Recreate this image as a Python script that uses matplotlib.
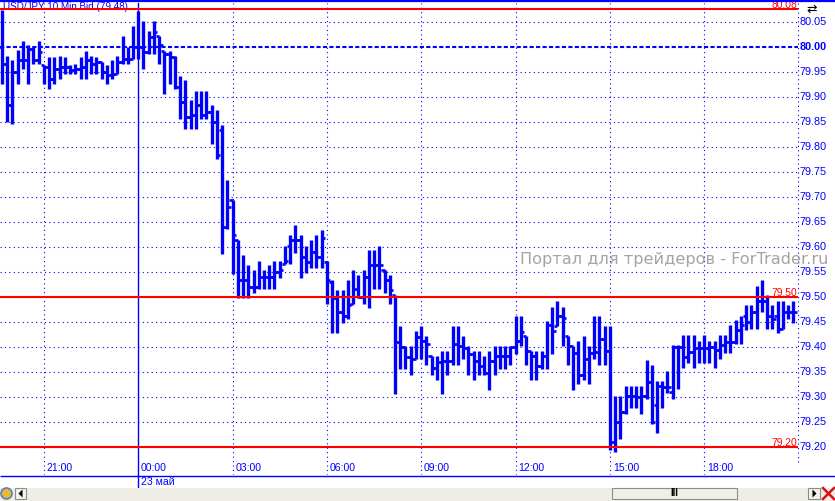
import matplotlib
matplotlib.use("Agg")
import matplotlib.pyplot as plt
from matplotlib.patches import Rectangle, Polygon
import matplotlib.transforms as mtrans

# ---------------- data ----------------
title = "USD/JPY 10 Min Bid (79.48)"
start_time = "19:40"          # time of the first 10-minute bar
bar_minutes = 10
opens = [80.000, 79.966, 79.883, 79.950, 79.973, 79.973, 79.996, 79.973, 79.963, 79.960,
         79.936, 79.956, 79.960, 79.960, 79.953, 79.956, 79.960, 79.973, 79.966, 79.969,
         79.950, 79.943, 79.946, 79.970, 79.976, 79.976, 80.000, 80.000, 79.990, 80.020,
         80.021, 79.991, 79.986, 79.980, 79.920, 79.890, 79.860, 79.863, 79.883, 79.863,
         79.870, 79.850, 79.833, 79.640, 79.693, 79.613, 79.533, 79.533, 79.520, 79.520,
         79.540, 79.540, 79.540, 79.550, 79.567, 79.603, 79.613, 79.613, 79.580, 79.570,
         79.590, 79.580, 79.570, 79.530, 79.497, 79.470, 79.463, 79.487, 79.517, 79.500,
         79.540, 79.563, 79.563, 79.553, 79.533, 79.505, 79.410, 79.400, 79.380, 79.375,
         79.420, 79.413, 79.382, 79.358, 79.370, 79.372, 79.372, 79.405, 79.402, 79.398,
         79.385, 79.372, 79.362, 79.348, 79.372, 79.382, 79.382, 79.382, 79.400, 79.412,
         79.422, 79.392, 79.382, 79.362, 79.382, 79.445, 79.442, 79.462, 79.422, 79.402,
         79.388, 79.345, 79.375, 79.388, 79.390, 79.415, 79.392, 79.210, 79.250, 79.270,
         79.303, 79.303, 79.300, 79.303, 79.330, 79.283, 79.323, 79.320, 79.310, 79.400,
         79.400, 79.380, 79.390, 79.397, 79.397, 79.397, 79.400, 79.393, 79.403, 79.410,
         79.410, 79.433, 79.463, 79.450, 79.470, 79.493, 79.493, 79.463, 79.463, 79.437,
         79.470, 79.470]
highs = [80.073, 79.981, 79.973, 79.993, 80.011, 80.003, 80.000, 80.011, 79.963, 79.979,
         79.979, 79.981, 79.979, 79.963, 79.966, 79.979, 79.991, 79.981, 79.979, 79.969,
         79.963, 79.973, 79.981, 80.021, 80.000, 80.041, 80.071, 80.051, 80.031, 80.051,
         80.021, 79.991, 79.991, 79.981, 79.941, 79.933, 79.893, 79.911, 79.911, 79.911,
         79.883, 79.873, 79.843, 79.733, 79.693, 79.613, 79.583, 79.563, 79.553, 79.573,
         79.553, 79.563, 79.573, 79.573, 79.603, 79.623, 79.643, 79.623, 79.603, 79.613,
         79.623, 79.633, 79.573, 79.533, 79.513, 79.513, 79.533, 79.553, 79.543, 79.553,
         79.593, 79.593, 79.603, 79.553, 79.543, 79.505, 79.441, 79.402, 79.402, 79.432,
         79.441, 79.422, 79.382, 79.382, 79.392, 79.392, 79.441, 79.441, 79.422, 79.402,
         79.392, 79.392, 79.382, 79.392, 79.402, 79.402, 79.402, 79.402, 79.462, 79.462,
         79.422, 79.392, 79.392, 79.392, 79.452, 79.481, 79.492, 79.481, 79.422, 79.402,
         79.412, 79.422, 79.402, 79.462, 79.462, 79.442, 79.442, 79.303, 79.303, 79.323,
         79.323, 79.323, 79.323, 79.373, 79.363, 79.333, 79.333, 79.353, 79.403, 79.403,
         79.423, 79.423, 79.423, 79.413, 79.423, 79.413, 79.413, 79.423, 79.423, 79.443,
         79.453, 79.463, 79.483, 79.483, 79.523, 79.533, 79.503, 79.483, 79.493, 79.493,
         79.483, 79.493]
lows = [79.926, 79.849, 79.846, 79.926, 79.956, 79.926, 79.966, 79.966, 79.926, 79.916,
        79.926, 79.936, 79.946, 79.946, 79.946, 79.936, 79.936, 79.946, 79.946, 79.936,
        79.926, 79.936, 79.946, 79.966, 79.966, 79.976, 79.976, 79.956, 79.986, 79.986,
        79.966, 79.906, 79.926, 79.916, 79.856, 79.836, 79.836, 79.836, 79.856, 79.856,
        79.806, 79.776, 79.586, 79.636, 79.546, 79.497, 79.497, 79.497, 79.507, 79.517,
        79.517, 79.517, 79.517, 79.537, 79.567, 79.567, 79.587, 79.537, 79.547, 79.557,
        79.557, 79.557, 79.487, 79.427, 79.427, 79.447, 79.457, 79.487, 79.497, 79.487,
        79.477, 79.517, 79.517, 79.507, 79.487, 79.305, 79.355, 79.355, 79.345, 79.375,
        79.375, 79.365, 79.345, 79.335, 79.305, 79.345, 79.365, 79.365, 79.375, 79.345,
        79.335, 79.345, 79.345, 79.315, 79.345, 79.355, 79.355, 79.365, 79.385, 79.402,
        79.365, 79.335, 79.335, 79.355, 79.355, 79.385, 79.442, 79.402, 79.365, 79.315,
        79.325, 79.335, 79.325, 79.375, 79.365, 79.365, 79.195, 79.190, 79.217, 79.267,
        79.277, 79.277, 79.267, 79.297, 79.247, 79.227, 79.277, 79.307, 79.297, 79.317,
        79.357, 79.367, 79.357, 79.367, 79.367, 79.367, 79.357, 79.377, 79.387, 79.387,
        79.407, 79.407, 79.433, 79.437, 79.437, 79.470, 79.437, 79.437, 79.427, 79.437,
        79.457, 79.447]
closes = [79.966, 79.883, 79.950, 79.973, 79.973, 79.996, 79.973, 79.990, 79.960, 79.936,
          79.956, 79.960, 79.960, 79.953, 79.956, 79.960, 79.973, 79.966, 79.970, 79.950,
          79.943, 79.946, 79.970, 79.976, 79.976, 80.000, 80.000, 79.990, 80.020, 80.030,
          80.003, 79.986, 79.980, 79.920, 79.890, 79.860, 79.863, 79.883, 79.863, 79.870,
          79.850, 79.783, 79.640, 79.680, 79.623, 79.533, 79.533, 79.520, 79.520, 79.540,
          79.540, 79.540, 79.550, 79.553, 79.573, 79.613, 79.613, 79.580, 79.570, 79.590,
          79.580, 79.617, 79.533, 79.497, 79.470, 79.463, 79.483, 79.517, 79.500, 79.540,
          79.563, 79.563, 79.563, 79.533, 79.513, 79.410, 79.400, 79.380, 79.375, 79.420,
          79.413, 79.405, 79.358, 79.370, 79.372, 79.372, 79.405, 79.402, 79.398, 79.385,
          79.372, 79.362, 79.348, 79.372, 79.382, 79.382, 79.382, 79.400, 79.412, 79.430,
          79.392, 79.382, 79.362, 79.382, 79.445, 79.432, 79.462, 79.458, 79.402, 79.388,
          79.345, 79.375, 79.388, 79.390, 79.415, 79.392, 79.210, 79.250, 79.270, 79.303,
          79.303, 79.300, 79.303, 79.330, 79.250, 79.323, 79.320, 79.320, 79.400, 79.400,
          79.380, 79.390, 79.397, 79.397, 79.397, 79.400, 79.393, 79.403, 79.410, 79.410,
          79.433, 79.443, 79.450, 79.470, 79.493, 79.493, 79.463, 79.457, 79.437, 79.470,
          79.470, 79.470]
price_ticks = [79.20, 79.25, 79.30, 79.35, 79.40, 79.45, 79.50, 79.55, 79.60,
               79.65, 79.70, 79.75, 79.80, 79.85, 79.90, 79.95, 80.00, 80.05]
bold_level = 80.00
red_levels = [80.076, 79.50, 79.20]   # labelled to 2 decimals on the chart
time_labels = ["21:00", "00:00", "03:00", "06:00", "09:00", "12:00", "15:00", "18:00"]
day_label = "23 май"
day_time = "00:00"
watermark = "Портал для трейдеров - ForTrader.ru"

# ---------------- figure ----------------
W, H = 835, 501
fig = plt.figure(figsize=(W / 100, H / 100), dpi=100)
fig.patch.set_facecolor("white")
BLUE = "#0000ff"
RED = "#ff0000"
FONT = "Liberation Sans"

ax_top, ax_bot, ax_right = 3, 475, 798
ax = fig.add_axes([0, (H - ax_bot) / H, ax_right / W, (ax_bot - ax_top) / H])
ax.set_facecolor("white")
for s in ax.spines.values():
    s.set_visible(False)
ax.set_xticks([])
ax.set_yticks([])

n = len(closes)
xs = list(range(n))
ax.set_xlim(-0.382, 151.91)
ax.set_ylim(79.144, 80.088)

def tidx(t):
    h, m = map(int, t.split(":"))
    sh, sm = map(int, start_time.split(":"))
    return ((h * 60 + m) - (sh * 60 + sm)) % 1440 / bar_minutes

# horizontal grid
for p in price_ticks:
    if abs(p - bold_level) < 1e-9:
        ax.axhline(p, color=BLUE, lw=1.5, ls=(0, (2, 1.1)), zorder=1)
    else:
        ax.axhline(p, color=BLUE, lw=0.8, ls=(0, (1, 3)), zorder=1)

# vertical grid
for lab in time_labels:
    xi = tidx(lab)
    if lab == day_time:
        ax.axvline(xi, ymin=-12 / (ax_bot - ax_top), ymax=1, color=BLUE, lw=1.0,
                   clip_on=False, zorder=1)
    else:
        ax.axvline(xi, color=BLUE, lw=0.8, ls=(0, (1, 3)), zorder=1)
    ax.text(xi + 0.55, 79.158, lab, fontsize=7.6, family=FONT, color=BLUE,
            ha="left", va="center", zorder=3)
# right axis dotted line
ax.plot([1, 1], [79.17, 80.088], transform=ax.get_yaxis_transform(), color=BLUE,
        lw=0.8, ls=(0, (1, 3)), clip_on=False, zorder=1)

# day label
ax.text(tidx(day_time) + 0.55, -7 / (ax_bot - ax_top), day_label, fontsize=7.6,
        family=FONT, color=BLUE, ha="left", va="center",
        transform=mtrans.blended_transform_factory(ax.transData, ax.transAxes),
        clip_on=False)

# title
ax.text(3 / ax_right, 1.0 + 1 / (ax_bot - ax_top), title, fontsize=7.1, family=FONT,
        color=BLUE, ha="left", va="top", transform=ax.transAxes, clip_on=False,
        zorder=2)

# watermark
ax.text(828 / ax_right, 79.565, watermark, fontsize=11.6, family="DejaVu Sans",
        color="#aaa2a2", ha="right", va="baseline", transform=ax.get_yaxis_transform(),
        clip_on=False, zorder=2)

# OHLC bars
ax.vlines(xs, lows, highs, color=BLUE, lw=2.4, capstyle="butt", zorder=4)
tick = 0.64
ax.hlines(opens, [x - tick for x in xs], xs, color=BLUE, lw=1.9, zorder=4)
ax.hlines(closes, xs, [x + tick for x in xs], color=BLUE, lw=1.9, zorder=4)

# red level lines
for p in red_levels:
    ax.axhline(p, color=RED, lw=1.5, zorder=5)
    ax.text(797 / ax_right, p + 0.0015, f"{p:.2f}", fontsize=7.4, family=FONT,
            color=RED, ha="right", va="baseline", transform=ax.get_yaxis_transform(),
            zorder=6, clip_on=False)

# price labels
for p in price_ticks:
    ax.text(1 + 2 / ax_right, p, f"{p:.2f}", fontsize=7.8, family=FONT, color=BLUE,
            ha="left", va="center", transform=ax.get_yaxis_transform(), clip_on=False,
            fontweight="bold" if abs(p - bold_level) < 1e-9 else "normal")

# ---------------- frame lines & scrollbar (pixel axes) ----------------
ov = fig.add_axes([0, 0, 1, 1], zorder=10)
ov.set_xlim(0, W)
ov.set_ylim(H, 0)
ov.axis("off")
ov.patch.set_alpha(0)
ov.plot([0, W], [1, 1], color=BLUE, lw=1.6, solid_capstyle="butt")
ov.plot([0, W], [475.5, 475.5], color=BLUE, lw=1.0, solid_capstyle="butt")
# top-right chart icon
ov.text(812, 9, "⇄", fontsize=9, family="DejaVu Sans", color="black",
        ha="center", va="center")
ov.add_patch(Rectangle((0, 488), W, 13, facecolor="#eeede6", edgecolor="none"))
ov.add_patch(Rectangle((612, 487.5), 125, 11.5, facecolor="#efefea", edgecolor="#8c8c8c",
                       lw=0.8))
ov.text(674.5, 493.5, "III", fontsize=7, fontweight="bold", color="black",
        ha="center", va="center", family=FONT)
ov.add_patch(Rectangle((15, 487.5), 11, 11.5, facecolor="#f2f2ee", edgecolor="#8c8c8c",
                       lw=0.8))
ov.add_patch(Polygon([[22.5, 489.5], [22.5, 497.5], [18.5, 493.5]], closed=True,
                     facecolor="black", edgecolor="none"))
ov.add_patch(Rectangle((808, 487.5), 12, 11.5, facecolor="#f2f2ee", edgecolor="#8c8c8c",
                       lw=0.8))
ov.add_patch(Polygon([[812.5, 489.5], [812.5, 497.5], [816.5, 493.5]], closed=True,
                     facecolor="black", edgecolor="none"))
ov.add_patch(plt.Circle((6.5, 493.5), 5.5, facecolor="#e8b830", edgecolor="#5a7fc0",
                        lw=1.2))
ov.plot([823, 834], [488, 499], color="#dd1010", lw=1.8)
ov.plot([823, 834], [499, 488], color="#dd1010", lw=1.8)

fig.savefig("out.png", dpi=100, facecolor="white")
